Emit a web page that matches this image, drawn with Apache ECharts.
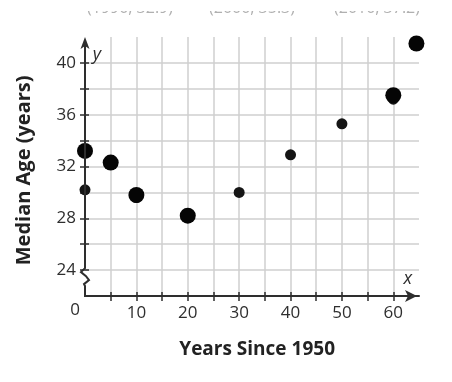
<!DOCTYPE html>
<html>
<head>
<meta charset="utf-8">
<script src="https://cdn.jsdelivr.net/npm/echarts@6/dist/echarts.min.js"></script>
<style>
html,body{margin:0;padding:0;background:#fff;}
#c{width:452px;height:382px;}
</style>
</head>
<body>
<div id="c"></div>
<script>
// Data
const smallYears = [0, 10, 20, 30, 40, 50, 60];
const smallAges = [30.2, 29.6, 28.1, 30.0, 32.9, 35.3, 37.2];
const largeYears = [0, 5, 10, 20, 60, 64.5];
const largeAges = [33.2, 32.3, 29.8, 28.2, 37.5, 41.5];
const xTickLabels = [10, 20, 30, 40, 50, 60];
const yTickLabels = [24, 28, 32, 36, 40];
const xTitle = 'Years Since 1950';
const yTitle = 'Median Age (years)';
const topFragments = ['(1990, 32.9)', '(2000, 35.3)', '(2010, 37.2)'];

const axisColor = '#2e2e2e';
const gridColor = '#cfcfcf';
const font = '"Open Sans", "Liberation Sans", sans-serif';

const chart = echarts.init(document.getElementById('c'), null, {renderer: 'canvas'});

const xCommon = {type: 'value', min: 0, max: 65, interval: 5};
const yCommon = {type: 'value', min: 22, max: 42, interval: 2};
const xTickVals = [5,10,15,20,25,30,35,40,45,50,55,60];
const yTickVals = [24,26,28,30,32,34,36,38,40];

chart.setOption({
  animation: false,
  backgroundColor: '#ffffff',
  grid: {left: 85, right: 33, top: 37, bottom: 86},
  xAxis: [
    Object.assign({}, xCommon, {
      position: 'bottom',
      axisLine: {show: true, lineStyle: {color: axisColor, width: 2}, symbol: ['none', 'arrow'], symbolSize: [9, 12], symbolOffset: [0, -2]},
      axisTick: {show: true, length: 5, lineStyle: {color: axisColor, width: 1.5}, customValues: xTickVals},
      axisLabel: {show: true, margin: 9, color: axisColor, fontFamily: font, fontSize: 17,
        customValues: xTickLabels, formatter: v => String(v)},
      splitLine: {show: true, lineStyle: {color: gridColor, width: 1.5}}
    }),
    Object.assign({}, xCommon, {
      position: 'bottom',
      axisLine: {show: false},
      axisTick: {show: true, inside: true, length: 4, lineStyle: {color: axisColor, width: 1.5}, customValues: xTickVals},
      axisLabel: {show: false},
      splitLine: {show: false}
    })
  ],
  yAxis: [
    Object.assign({}, yCommon, {
      position: 'left',
      axisLine: {show: false},
      axisTick: {show: true, length: 5, lineStyle: {color: axisColor, width: 1.5}, customValues: yTickVals},
      axisLabel: {show: true, margin: 9, color: axisColor, fontFamily: font, fontSize: 17,
        customValues: yTickLabels, formatter: v => String(v)},
      splitLine: {show: true, lineStyle: {color: gridColor, width: 1.5}}
    }),
    Object.assign({}, yCommon, {
      position: 'left',
      axisLine: {show: false},
      axisTick: {show: true, inside: true, length: 4, lineStyle: {color: axisColor, width: 1.5}, customValues: yTickVals},
      axisLabel: {show: false},
      splitLine: {show: false}
    })
  ],
  series: [
    {
      type: 'scatter', xAxisIndex: 0, yAxisIndex: 0, z: 3,
      symbolSize: 11,
      itemStyle: {color: '#151515', opacity: 1},
      data: smallYears.map((x, i) => [x, smallAges[i]])
    },
    {
      type: 'scatter', xAxisIndex: 0, yAxisIndex: 0, z: 4,
      symbolSize: 16,
      itemStyle: {color: '#050505', opacity: 1},
      data: largeYears.map((x, i) => [x, largeAges[i]])
    }
  ]
});

// Decorations positioned through the axes
const P = (x, y) => chart.convertToPixel({xAxisIndex: 0, yAxisIndex: 0}, [x, y]);
const origin = P(0, 22);
const yTopPt = P(0, 42);
const y24 = P(0, 24);
const ax = origin[0];
const brkTop = y24[1] - 2;
const graphics = [];

// y axis line with break
graphics.push({
  type: 'polyline', z: 10,
  shape: {points: [
    [ax, yTopPt[1] + 6], [ax, brkTop],
    [ax - 4, brkTop + 4], [ax + 1, brkTop + 8], [ax + 4, brkTop + 12],
    [ax - 1, brkTop + 16], [ax, brkTop + 18], [ax, origin[1] + 1]
  ]},
  style: {stroke: axisColor, lineWidth: 2, fill: null}
});
// y axis arrow
graphics.push({
  type: 'polygon', z: 10,
  shape: {points: [[ax, yTopPt[1] + 0], [ax - 4.5, yTopPt[1] + 12], [ax, yTopPt[1] + 9], [ax + 4.5, yTopPt[1] + 12]]},
  style: {fill: axisColor}
});
// axis letters
const ylab = P(2.3, 40.6);
graphics.push({type: 'text', z: 10, x: ylab[0], y: ylab[1], style: {text: 'y', font: 'italic 18px ' + font, fill: axisColor, textAlign: 'center', textVerticalAlign: 'middle'}});
const xlab = P(62.8, 23.3);
graphics.push({type: 'text', z: 10, x: xlab[0], y: xlab[1], style: {text: 'x', font: 'italic 18px ' + font, fill: axisColor, textAlign: 'center', textVerticalAlign: 'middle'}});
// origin zero
graphics.push({type: 'text', z: 10, x: ax - 10, y: origin[1] + 14, style: {text: '0', font: '17px ' + font, fill: axisColor, textAlign: 'center', textVerticalAlign: 'middle'}});
// axis titles
const xMid = P(33.5, 22);
graphics.push({type: 'text', z: 10, x: xMid[0], y: origin[1] + 54, style: {text: xTitle, font: 'bold 19px ' + font, fill: '#222', textAlign: 'center', textVerticalAlign: 'middle'}});
const yMid = P(0, 31.7);
graphics.push({type: 'text', z: 10, x: 24, y: yMid[1], rotation: Math.PI / 2, style: {text: yTitle, font: 'bold 20px ' + font, fill: '#222', textAlign: 'center', textVerticalAlign: 'middle'}});

// cropped text fragments at the very top
const fragX = [130, 252, 377];
topFragments.forEach((t, i) => {
  graphics.push({type: 'text', z: 1, x: fragX[i], y: 16, style: {text: t, font: '16px ' + font, fill: '#b0b0b0', textAlign: 'center', textVerticalAlign: 'bottom'}});
});
graphics.push({type: 'rect', z: 2, shape: {x: 0, y: 0, width: 452, height: 11}, style: {fill: '#ffffff'}});

chart.setOption({graphic: graphics});
</script>
</body>
</html>
